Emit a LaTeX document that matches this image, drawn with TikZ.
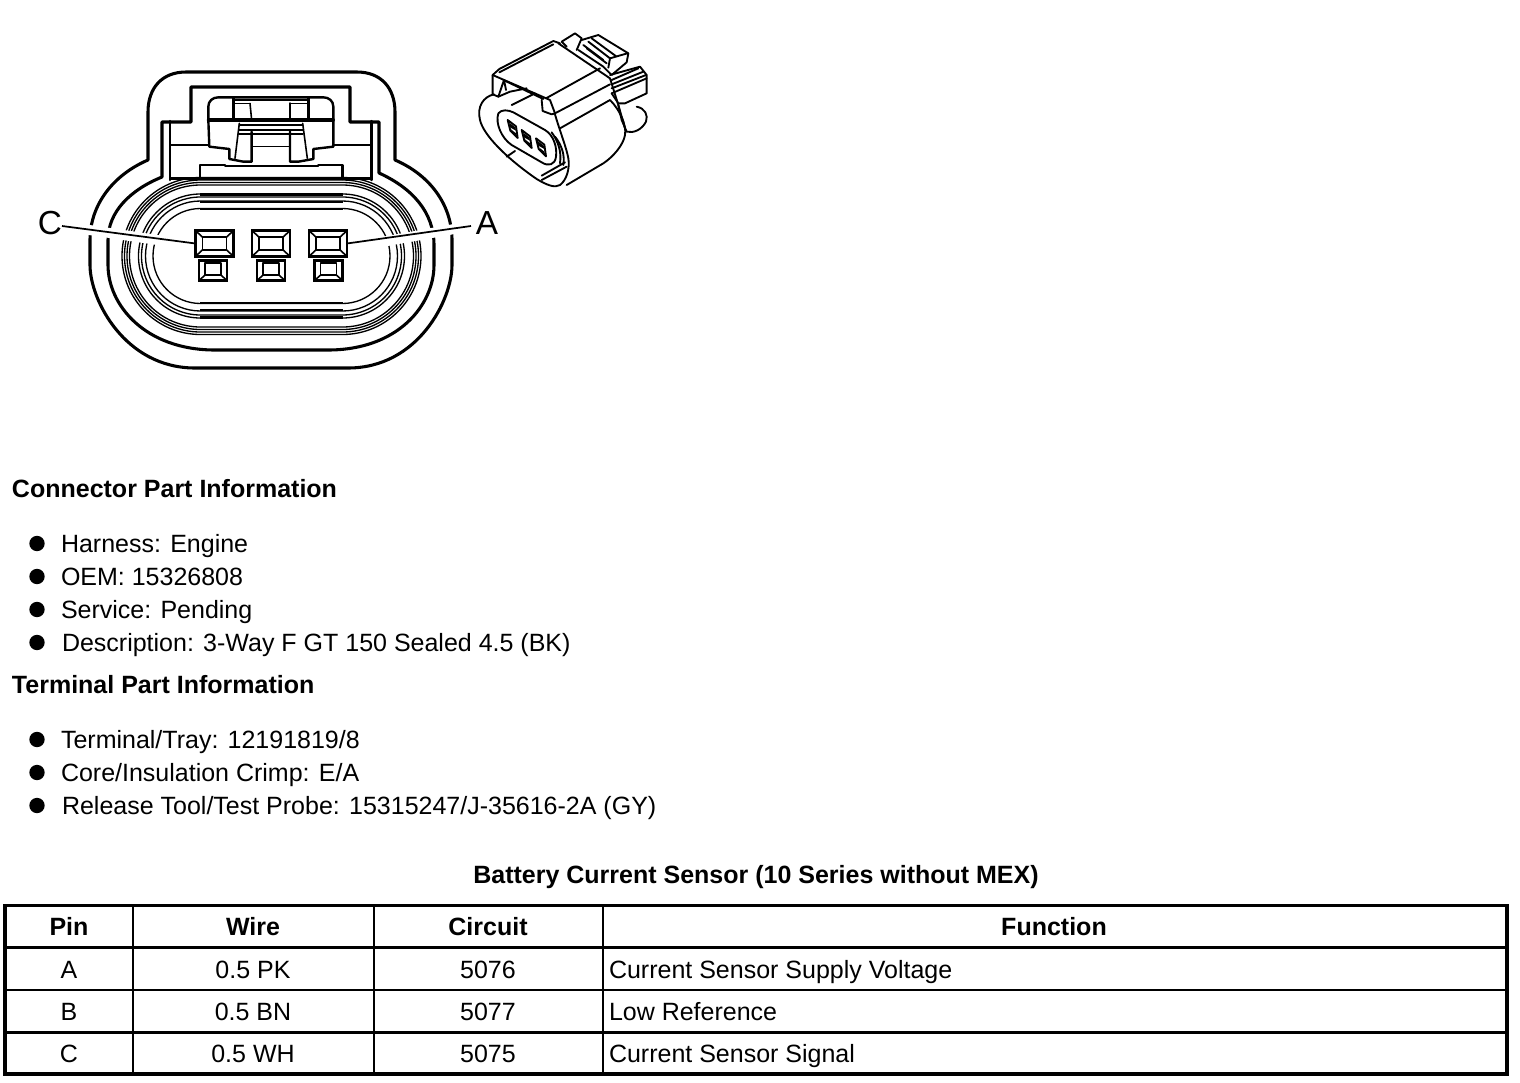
\documentclass[tikz,border=0pt]{standalone}
\usepackage{fontspec}
\setmainfont{Liberation Sans}
\tikzset{
  heavy/.style={line width=2.3pt,line cap=round,line join=round},
  med/.style={line width=1.8pt,line cap=round,line join=round},
  thin ring/.style={line width=1pt},
  fine/.style={line width=1.2pt,line cap=round,line join=round},
  iso/.style={line width=1.4pt,line cap=round,line join=round},
  body/.style={font=\fontsize{18.75}{20}\selectfont,inner sep=0pt,outer sep=0pt},
  bodyl/.style={body,anchor=base west},
  bodyc/.style={body,anchor=base},
  headl/.style={bodyl,font=\fontsize{18.75}{20}\selectfont\bfseries},
  headc/.style={bodyc,font=\fontsize{18.75}{20}\selectfont\bfseries},
  dotn/.style={circle,fill=black,draw=none,minimum size=11.5pt,inner sep=0pt},
  bigpin/.style={rectangle,draw,line width=2pt,minimum width=28.5pt,minimum height=19.5pt,inner sep=0pt,outer sep=0pt},
  smallpin/.style={rectangle,draw,line width=1.8pt,minimum width=21pt,minimum height=15pt,inner sep=0pt,outer sep=0pt},
  lab/.style={font=\fontsize{25}{26}\selectfont,inner sep=0pt,outer sep=0pt,anchor=base},
}
\begin{document}
\begin{tikzpicture}[x=0.75pt,y=-0.75pt]
\useasboundingbox (0,0) rectangle (1520,1082);
% outer outline
\draw[heavy] (148,160) -- (148,112) .. controls (148,88) and (162,72) .. (186,72)
  -- (357,72) .. controls (381,72) and (395,88) .. (395,112) -- (395,160)
  .. controls (430,175) and (452,205) .. (452,240) -- (452,265)
  .. controls (452,300) and (418,368) .. (348,368) -- (195,368)
  .. controls (125,368) and (90,300) .. (90,265) -- (90,240)
  .. controls (90,205) and (113,175) .. (148,160) -- cycle;
% second outline
\draw[heavy] (162,177) -- (162,122) -- (191,122) -- (191,87) -- (350,87) -- (350,122) -- (379,122) -- (379,173)
  .. controls (412,188) and (434,212) .. (434,245) -- (434,265)
  .. controls (434,305) and (398,350) .. (328,350) -- (215,350)
  .. controls (145,350) and (108,305) .. (108,265) -- (108,240)
  .. controls (108,212) and (130,190) .. (162,177) -- cycle;
% rings
\foreach \r in {78.5,76,73.5,71,62,59,55,47.5}{
  \draw[thin ring,rounded corners=\r*0.75pt] ({271.5-71-\r},{256-\r}) rectangle ({271.5+71+\r},{256+\r});
}
\draw[line width=2.4pt] (171,178.5) -- (372,178.5);
\draw[line width=1.6pt] (200,194.5) -- (343,194.5) (200,202) -- (343,202) (200,209) -- (343,209);
\draw[line width=1.6pt] (200,303) -- (343,303) (200,310) -- (343,310) (200,317.5) -- (343,317.5);
% latch detail, in units of a third of a pixel
\begin{scope}[shift={(150,65)},x=0.25pt,y=-0.25pt]
\draw[med] (60,168) -- (60,345) (665,168) -- (665,345);
\draw[fine] (60,240) -- (175,240) (550,240) -- (665,240);
\draw[med] (175,165) -- (175,125) .. controls (175,108) and (188,97) .. (205,97) -- (520,97)
  .. controls (537,97) and (550,108) .. (550,125) -- (550,165);
\draw[heavy] (175,165) -- (550,165);
\draw[med] (175,165) -- (178,245) -- (238,252) -- (238,282) -- (280,290) -- (305,290) -- (305,200);
\draw[med] (550,165) -- (550,245) -- (490,252) -- (490,282) -- (445,290) -- (420,290) -- (420,200);
\draw[fine] (268,175) -- (255,280) (458,175) -- (472,280);
\draw[fine] (268,180) -- (458,180) (268,195) -- (458,195);
\draw[med] (268,207) -- (458,207);
\draw[fine] (305,245) -- (420,245);
\draw[fine] (255,105) -- (470,105) (255,115) -- (300,115) (420,115) -- (470,115);
\draw[med] (250,100) -- (250,165) (475,100) -- (475,165) (420,115) -- (420,165);
\draw[fine] (300,115) -- (305,165);
\draw[med] (150,342) -- (150,300) -- (225,300) (505,300) -- (578,300) -- (578,342);
\draw[fine] (225,303) -- (505,303);
\end{scope}
% leaders with their white halo
\node[lab] (labC) at (50,234) {C};
\node[lab] (labA) at (487,234) {A};
\coordinate (cS) at (62,226);
\coordinate (aS) at (471,226);
\coordinate (cE) at (195,245.5);
\coordinate (aE) at (348,248);
\draw[white,line width=7.5pt,shorten >=2pt] (cS) -- (cE);
\draw[white,line width=7.5pt,shorten >=2pt] (aS) -- (aE);
% pins
\foreach \n/\bx/\sx in {C/214.5/213,B/271/271,A/328/328.5}{
  \node[bigpin,fill=white] (pin\n) at (\bx,243.5) {};
  \draw[fine] ([xshift=5.2pt,yshift=-5pt]pin\n.north west) rectangle ([xshift=-5.2pt,yshift=5pt]pin\n.south east);
  \draw[fine] (pin\n.north west) -- ++(5.2pt,-5pt) (pin\n.north east) -- ++(-5.2pt,-5pt)
    (pin\n.south west) -- ++(5.2pt,5pt) (pin\n.south east) -- ++(-5.2pt,5pt);
  \node[smallpin,fill=white] (spin\n) at (\sx,270.5) {};
  \draw[fine] ([xshift=4.5pt,yshift=-2pt]spin\n.north west) rectangle ([xshift=-4.5pt,yshift=4pt]spin\n.south east);
  \draw[fine] (spin\n.south west) -- ++(4.5pt,4pt) (spin\n.south east) -- ++(-4.5pt,4pt);
}
\draw[line width=1.3pt] (cS) -- (pinC.west);
\draw[line width=1.3pt] (aS) -- (pinA.east);
% isometric view
\begin{scope}[shift={(470,25)},x=0.25pt,y=-0.25pt]
\draw[iso] (72,208) .. controls (40,215) and (20,245) .. (30,285) .. controls (40,330) and (110,400) .. (200,462)
  .. controls (230,480) and (255,490) .. (270,480) .. controls (290,465) and (300,430) .. (295,400) .. controls (290,370) and (270,320) .. (255,268);
\draw[iso] (85,265) .. controls (95,252) and (115,255) .. (130,262) -- (225,315) .. controls (250,330) and (262,365) .. (258,395)
  .. controls (255,420) and (235,425) .. (215,412) -- (125,360) .. controls (95,340) and (75,295) .. (85,265);
\draw[iso] (110,395) -- (135,378) (215,465) -- (290,425) (215,452) -- (285,412);
\draw[iso] (255,335) .. controls (275,360) and (285,390) .. (280,420);
\draw[iso] (245,322) .. controls (265,350) and (275,380) .. (270,415);
\draw[iso] (68,150) -- (68,208) -- (85,215) -- (102,165) -- (108,195);
\draw[iso] (68,150) -- (88,132) -- (250,48) -- (270,55);
\draw[iso] (88,142) -- (250,58);
\draw[iso] (68,150) -- (240,225) -- (255,265) -- (245,268) -- (218,258) -- (215,225);
\draw[iso] (85,215) -- (120,200) -- (170,190) (125,240) -- (195,205) (100,165) -- (220,222);
\draw[iso] (228,220) -- (390,130);
\draw[iso] (255,265) -- (420,178);
\draw[iso] (270,310) -- (420,225) .. controls (450,255) and (470,300) .. (465,330) .. controls (460,360) and (430,395) .. (400,415) -- (290,480);
\draw[iso] (265,55) -- (420,160) -- (445,240) -- (465,310);
\draw[iso] (275,50) -- (315,25) -- (335,40) -- (320,75) (290,65) -- (275,50);
\draw[iso] (335,45) -- (385,30) -- (475,85) -- (470,112) -- (425,150) -- (400,125) -- (325,75);
\draw[iso] (355,50) -- (420,100) -- (415,128) (340,60) -- (400,105) (365,40) -- (440,95) (420,100) -- (472,85)
  (350,70) -- (410,115);
\draw[iso] (420,150) -- (510,125) -- (530,150) -- (530,205) -- (465,235) -- (445,235) -- (425,205);
\draw[iso] (425,165) -- (505,130) (425,178) -- (520,140) (425,190) -- (528,150) (425,205) -- (530,160);
\draw[iso] (500,245) .. controls (525,250) and (535,270) .. (528,290) .. controls (515,315) and (490,325) .. (470,320) -- (455,285) -- (445,240);
\foreach \a/\b in {113/285,155/315,198/340}{
  \draw[iso] (\a,\b) -- ++(8,32) -- ++(22,22) -- ++(-5,-35) -- cycle;
  \fill (\a+5,\b+8) -- ++(18,14) -- ++(2,10) -- ++(-18,-10) -- cycle;
  \fill (\a+10,\b+28) -- ++(15,12) -- ++(2,8) -- ++(-15,-10) -- cycle;
}
\end{scope}
% text
\node[headl] (h1) at (12,497) {Connector Part Information};
\foreach \i/\dy/\dx/\t in {a/552/61/{Harness: Engine},b/585/61/{OEM: 15326808},c/618/61/{Service: Pending},d/651/62/{Description: 3-Way F GT 150 Sealed 4.5 (BK)},e/748/61/{Terminal/Tray: 12191819/8},f/781/61/{Core/Insulation Crimp: E/A},g/814/62/{Release Tool/Test Probe: 15315247/J-35616-2A (GY)}}{
  \node[dotn] (dot\i) at (37,\dy-8.5) {};
  \node[bodyl] (item\i) at (\dx,\dy) {\t};
}
\node[headl] (h2) at (12,693) {Terminal Part Information};
\node[headc] (title) at (756,883) {Battery Current Sensor (10 Series without MEX)};
% table
\draw[line width=2.8pt] (5,905.5) rectangle (1507,1074);
\draw[line width=1.7pt] (5,947.5) -- (1507,947.5) (5,990) -- (1507,990) (5,1032.5) -- (1507,1032.5);
\draw[line width=1.5pt] (133,905) -- (133,1074) (374,905) -- (374,1074) (603,905) -- (603,1074);
\node[headc] (tp) at (69,935) {Pin};
\node[headc] (tw) at (253,935) {Wire};
\node[headc] (tc) at (488,935) {Circuit};
\node[headc] (tf) at (1054,935) {Function};
\node[bodyc] (p1) at (69,978) {A};
\node[bodyc] (w1) at (253,978) {0.5 PK};
\node[bodyc] (c1) at (488,978) {5076};
\node[bodyl] (f1) at (609,978) {Current Sensor Supply Voltage};
\node[bodyc] (p2) at (69,1020) {B};
\node[bodyc] (w2) at (253,1020) {0.5 BN};
\node[bodyc] (c2) at (488,1020) {5077};
\node[bodyl] (f2) at (609,1020) {Low Reference};
\node[bodyc] (p3) at (69,1062) {C};
\node[bodyc] (w3) at (253,1062) {0.5 WH};
\node[bodyc] (c3) at (488,1062) {5075};
\node[bodyl] (f3) at (609,1062) {Current Sensor Signal};
\end{tikzpicture}
\end{document}
